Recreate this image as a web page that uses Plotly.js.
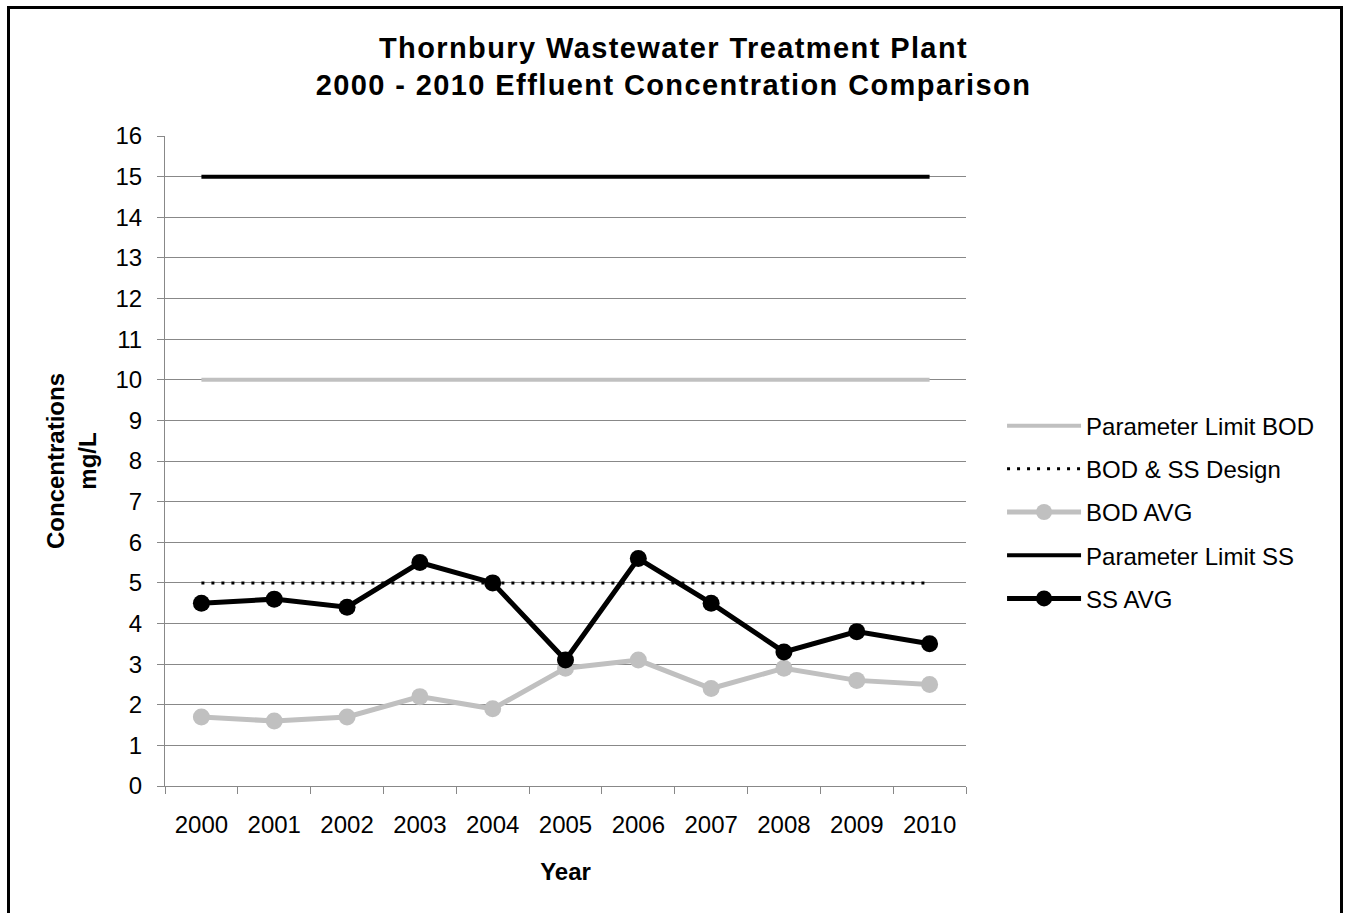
<!DOCTYPE html>
<html>
<head>
<meta charset="utf-8">
<script src="https://cdn.plot.ly/plotly-3.0.1.min.js"></script>
<style>
  html, body { margin: 0; padding: 0; background: #fff; }
  #chart { width: 1347px; height: 913px; }
  #frame { position: absolute; left: 7px; top: 6px; width: 1330px; height: 930px; border: 3px solid #000; pointer-events: none; }
  .gtitle { letter-spacing: 1.4px; }
</style>
</head>
<body>
<div id="chart"></div>
<div id="frame"></div>
<script>
const years = ["2000","2001","2002","2003","2004","2005","2006","2007","2008","2009","2010"];
const paramLimitBOD = [10,10,10,10,10,10,10,10,10,10,10];
const designBODSS = [5,5,5,5,5,5,5,5,5,5,5];
const bodAvg = [1.7,1.6,1.7,2.2,1.9,2.9,3.1,2.4,2.9,2.6,2.5];
const paramLimitSS = [15,15,15,15,15,15,15,15,15,15,15];
const ssAvg = [4.5,4.6,4.4,5.5,5.0,3.1,5.6,4.5,3.3,3.8,3.5];

const grey = "#c0c0c0";
const traces = [
  {x: years, y: paramLimitBOD, name: "Parameter Limit BOD", mode: "lines", legendgroup: "a",
   line: {color: grey, width: 4}},
  {x: years, y: designBODSS, name: "BOD & SS Design", mode: "lines", legendgroup: "b",
   line: {color: "#000", width: 3, dash: "3px,7px"}},
  {x: years, y: bodAvg, name: "BOD AVG", mode: "lines+markers", legendgroup: "c",
   line: {color: grey, width: 5}, marker: {color: grey, size: 17}},
  {x: years, y: paramLimitSS, name: "Parameter Limit SS", mode: "lines", legendgroup: "d",
   line: {color: "#000", width: 4}},
  {x: years, y: ssAvg, name: "SS AVG", mode: "lines+markers", legendgroup: "e",
   line: {color: "#000", width: 5}, marker: {color: "#000", size: 17}}
];

const font = "Liberation Sans, Arial, sans-serif";
const layout = {
  width: 1347, height: 913,
  margin: {l: 165, r: 381, t: 136, b: 127},
  paper_bgcolor: "#fff", plot_bgcolor: "#fff",
  font: {family: font, color: "#000", size: 24},
  title: {
    text: "<b>Thornbury Wastewater Treatment Plant<br>2000 - 2010 Effluent Concentration Comparison</b>",
    font: {family: font, size: 29, color: "#000"},
    x: 0.5, xref: "container", xanchor: "center",
    y: 0.937, yref: "container", yanchor: "top"
  },
  xaxis: {
    type: "category",
    range: [-0.5, 10.5],
    tickson: "boundaries",
    ticks: "outside", ticklen: 7, tickcolor: "#888",
    ticklabelstandoff: 17,
    showline: true, linecolor: "#888", linewidth: 1,
    showgrid: false,
    tickfont: {size: 24, family: font},
    title: {text: "<b>Year</b>", font: {size: 24, family: font}, standoff: 26},
    fixedrange: true
  },
  yaxis: {
    range: [0, 16], dtick: 1, tick0: 0,
    ticks: "outside", ticklen: 7, tickcolor: "#888",
    ticklabelstandoff: 10,
    showline: true, linecolor: "#888", linewidth: 1,
    showgrid: true, gridcolor: "#888", gridwidth: 1,
    zeroline: false,
    tickfont: {size: 24, family: font},
    title: {text: "<b>Concentrations<br>mg/L</b>", font: {size: 24, family: font}, standoff: 12},
    fixedrange: true
  },
  showlegend: true,
  legend: {
    x: 1.045, xanchor: "left", y: 0.4215, yanchor: "middle",
    font: {size: 24, family: font},
    tracegroupgap: 9,
    itemwidth: 74,
    bgcolor: "rgba(0,0,0,0)"
  }
};

Plotly.newPlot("chart", traces, layout, {displayModeBar: false, staticPlot: true});
</script>
</body>
</html>
